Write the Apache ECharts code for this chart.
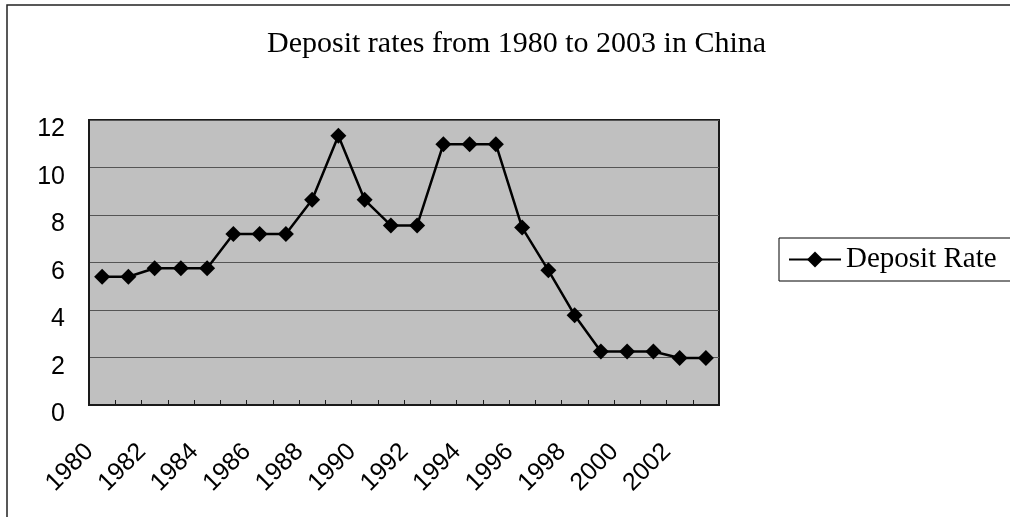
<!DOCTYPE html>
<html>
<head>
<meta charset="utf-8">
<script src="https://cdn.jsdelivr.net/npm/echarts@6/dist/echarts.min.js"></script>
<style>
html,body{margin:0;padding:0;background:#fff;}
#chart{width:1010px;height:517px;}
</style>
</head>
<body>
<div id="chart"></div>
<script>
var years = ['1980','1981','1982','1983','1984','1985','1986','1987','1988','1989','1990','1991',
             '1992','1993','1994','1995','1996','1997','1998','1999','2000','2001','2002','2003'];
var depositRate = [5.40,5.40,5.76,5.76,5.76,7.20,7.20,7.20,8.64,11.34,8.64,7.56,
                   7.56,10.98,10.98,10.98,7.47,5.67,3.78,2.25,2.25,2.25,1.98,1.98];
var titleText = 'Deposit rates from 1980 to 2003 in China';
var seriesName = 'Deposit Rate';

var chart = echarts.init(document.getElementById('chart'));
chart.setOption({
  animation: false,
  backgroundColor: '#ffffff',
  title: {
    text: titleText,
    left: 262,
    top: 24,
    textStyle: {fontFamily: 'Liberation Serif, Times New Roman, serif', fontSize: 30, fontWeight: 'normal', color: '#000'}
  },
  graphic: [{
    type: 'rect',
    shape: {x: 7, y: 5, width: 1020, height: 530},
    style: {fill: 'none', stroke: '#222', lineWidth: 1.5},
    silent: true
  }],
  legend: {
    left: 779,
    top: 238,
    orient: 'vertical',
    padding: [7, 20, 7, 9],
    borderColor: '#000',
    borderWidth: 1,
    itemWidth: 52,
    itemHeight: 20,
    lineStyle: {width: 2, color: '#000'},
    textStyle: {fontFamily: 'Liberation Serif, Times New Roman, serif', fontSize: 29, color: '#000'},
    data: [seriesName]
  },
  grid: {
    left: 89, right: 291, top: 120, bottom: 112,
    show: true,
    backgroundColor: '#c0c0c0',
    borderColor: '#1a1a1a',
    borderWidth: 2,
    containLabel: false
  },
  xAxis: {
    type: 'category',
    data: years,
    boundaryGap: true,
    axisLine: {show: true, lineStyle: {color: '#1a1a1a', width: 2}},
    axisTick: {show: true, inside: true, length: 5, interval: 0, lineStyle: {color: '#1a1a1a', width: 1}},
    axisLabel: {
      interval: 1,
      rotate: 45,
      margin: 30,
      padding: [0, 18, 0, 0],
      fontFamily: 'Liberation Sans, Arial, sans-serif',
      fontSize: 25,
      color: '#000'
    },
    splitLine: {show: false}
  },
  yAxis: {
    type: 'value',
    min: 0, max: 12, interval: 2,
    axisLine: {show: true, lineStyle: {color: '#1a1a1a', width: 2}},
    axisTick: {show: false},
    axisLabel: {
      margin: 24,
      verticalAlign: 'top',
      lineHeight: 19,
      fontFamily: 'Liberation Sans, Arial, sans-serif',
      fontSize: 25,
      color: '#000'
    },
    splitLine: {show: true, lineStyle: {color: '#555555', width: 1}}
  },
  series: [{
    name: seriesName,
    type: 'line',
    data: depositRate,
    symbol: 'diamond',
    symbolSize: 16,
    lineStyle: {color: '#000', width: 2.5},
    itemStyle: {color: '#000'}
  }]
});
</script>
</body>
</html>
